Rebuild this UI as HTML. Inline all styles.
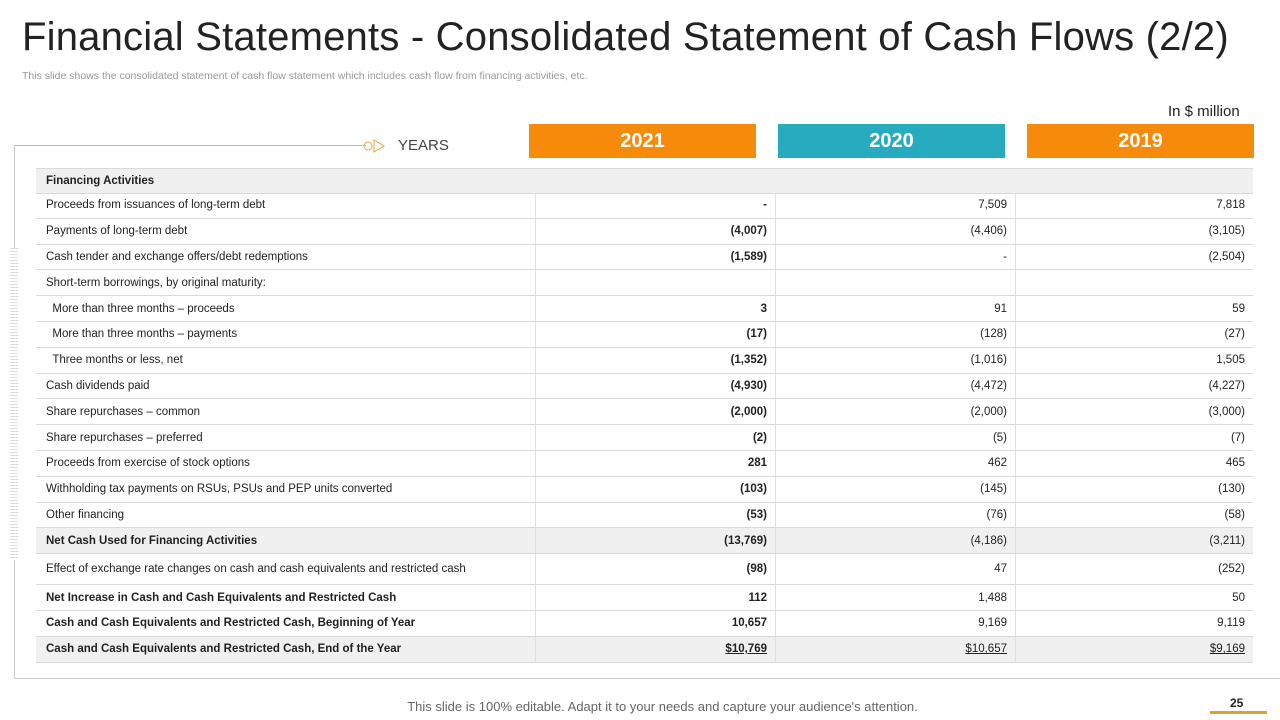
<!DOCTYPE html>
<html><head><meta charset="utf-8"><style>
body{margin:0;width:1280px;height:720px;position:relative;background:#fff;font-family:"Liberation Sans",sans-serif;overflow:hidden}
.a{position:absolute}
.row{position:absolute;left:36px;width:1217px;border-bottom:1px solid #d9d9d9;font-size:11.5px;color:#222}
.row div{position:absolute;top:0;height:100%;display:flex;align-items:center}
.l{left:10px}
.c1,.c2,.c3{justify-content:flex-end;border-left:1px solid #e0e0e0;box-sizing:border-box;padding-right:8px}
.c1{left:499px;width:240px;font-weight:bold}
.c2{left:739px;width:240px}
.c3{left:979px;width:238px}
.g{background:#f0f0f0}
.b .l{font-weight:bold}
.yr{position:absolute;top:124px;height:34px;width:227px;color:#fff;font-weight:bold;font-size:20px;display:flex;align-items:center;justify-content:center}
</style></head><body>
<div class="a" style="left:22px;top:15px;font-size:40px;color:#222;letter-spacing:0.2px">Financial Statements - Consolidated Statement of Cash Flows (2/2)</div>
<div class="a" style="left:22px;top:70px;font-size:10.5px;color:#999">This slide shows the consolidated statement of cash flow statement which includes cash flow from financing activities, etc.</div>
<div class="a" style="left:1168px;top:103px;font-size:15px;color:#222">In $ million</div>
<div class="a" style="left:14px;top:145px;width:352px;height:1px;background:#bbb"></div>
<div class="a" style="left:14px;top:145px;width:1px;height:533px;background:#ccc"></div>
<div class="a" style="left:14px;top:678px;width:1266px;height:1px;background:#ccc"></div>
<div class="a" style="left:10px;top:248px;width:8px;height:312px;background:repeating-linear-gradient(#ddd 0 1px,#fff 1px 3px)"></div>
<svg class="a" style="left:360px;top:138px" width="28" height="16"><circle cx="8" cy="8" r="4" fill="none" stroke="#e8a33a"/><path d="M14 2 L24 8 L14 14 Z" fill="none" stroke="#e8a33a"/></svg>
<div class="a" style="left:398px;top:137px;font-size:15px;color:#444">YEARS</div>
<div class="yr" style="left:529px;background:#f68a0a">2021</div>
<div class="yr" style="left:778px;background:#26acbe">2020</div>
<div class="yr" style="left:1027px;background:#f68a0a">2019</div>
<div id="tbl"></div>
<div class="a" style="left:0;width:1325px;text-align:center;top:699px;font-size:13px;color:#666">This slide is 100% editable. Adapt it to your needs and capture your audience's attention.</div>
<div class="a" style="left:1230px;top:696px;font-size:12px;font-weight:bold;color:#222">25</div>
<div class="a" style="left:1210px;top:711px;width:57px;height:3px;background:#e0a030"></div>
<script>
const labels=["Financing Activities","Proceeds from issuances of long-term debt","Payments of long-term debt","Cash tender and exchange offers/debt redemptions","Short-term borrowings, by original maturity:","\u00a0\u00a0More than three months – proceeds","\u00a0\u00a0More than three months – payments","\u00a0\u00a0Three months or less, net","Cash dividends paid","Share repurchases – common","Share repurchases – preferred","Proceeds from exercise of stock options","Withholding tax payments on RSUs, PSUs and PEP units converted","Other financing","Net Cash Used for Financing Activities","Effect of exchange rate changes on cash and cash equivalents and restricted cash","Net Increase in Cash and Cash Equivalents and Restricted Cash","Cash and Cash Equivalents and Restricted Cash, Beginning of Year","Cash and Cash Equivalents and Restricted Cash, End of the Year"];
const v2021=[null,"-","(4,007)","(1,589)","","3","(17)","(1,352)","(4,930)","(2,000)","(2)","281","(103)","(53)","(13,769)","(98)","112","10,657","$10,769"];
const v2020=[null,"7,509","(4,406)","-","","91","(128)","(1,016)","(4,472)","(2,000)","(5)","462","(145)","(76)","(4,186)","47","1,488","9,169","$10,657"];
const v2019=[null,"7,818","(3,105)","(2,504)","","59","(27)","1,505","(4,227)","(3,000)","(7)","465","(130)","(58)","(3,211)","(252)","50","9,119","$9,169"];
const t=document.getElementById('tbl');let y=168;
labels.forEach((lb,i)=>{const h=i==15?31:(i==0?25:25.8);const r=document.createElement('div');


r.className='row'+((i==0||i==14||i==18)?' g':'')+((i==0||i>=14&&i!=15)?' b':'');
r.style.top=y+'px';r.style.height=(h-1)+'px';if(i==0)r.style.borderTop='1px solid #d9d9d9';
let html='<div class="l">'+lb+'</div>';
if(v2021[i]!==null){const u=i==18?'text-decoration:underline;':'';html+='<div class="c1" style="'+u+'">'+v2021[i]+'</div><div class="c2" style="'+u+'">'+v2020[i]+'</div><div class="c3" style="'+u+'">'+v2019[i]+'</div>';}
r.innerHTML=html;t.appendChild(r);y+=h;});
</script>
</body></html>
